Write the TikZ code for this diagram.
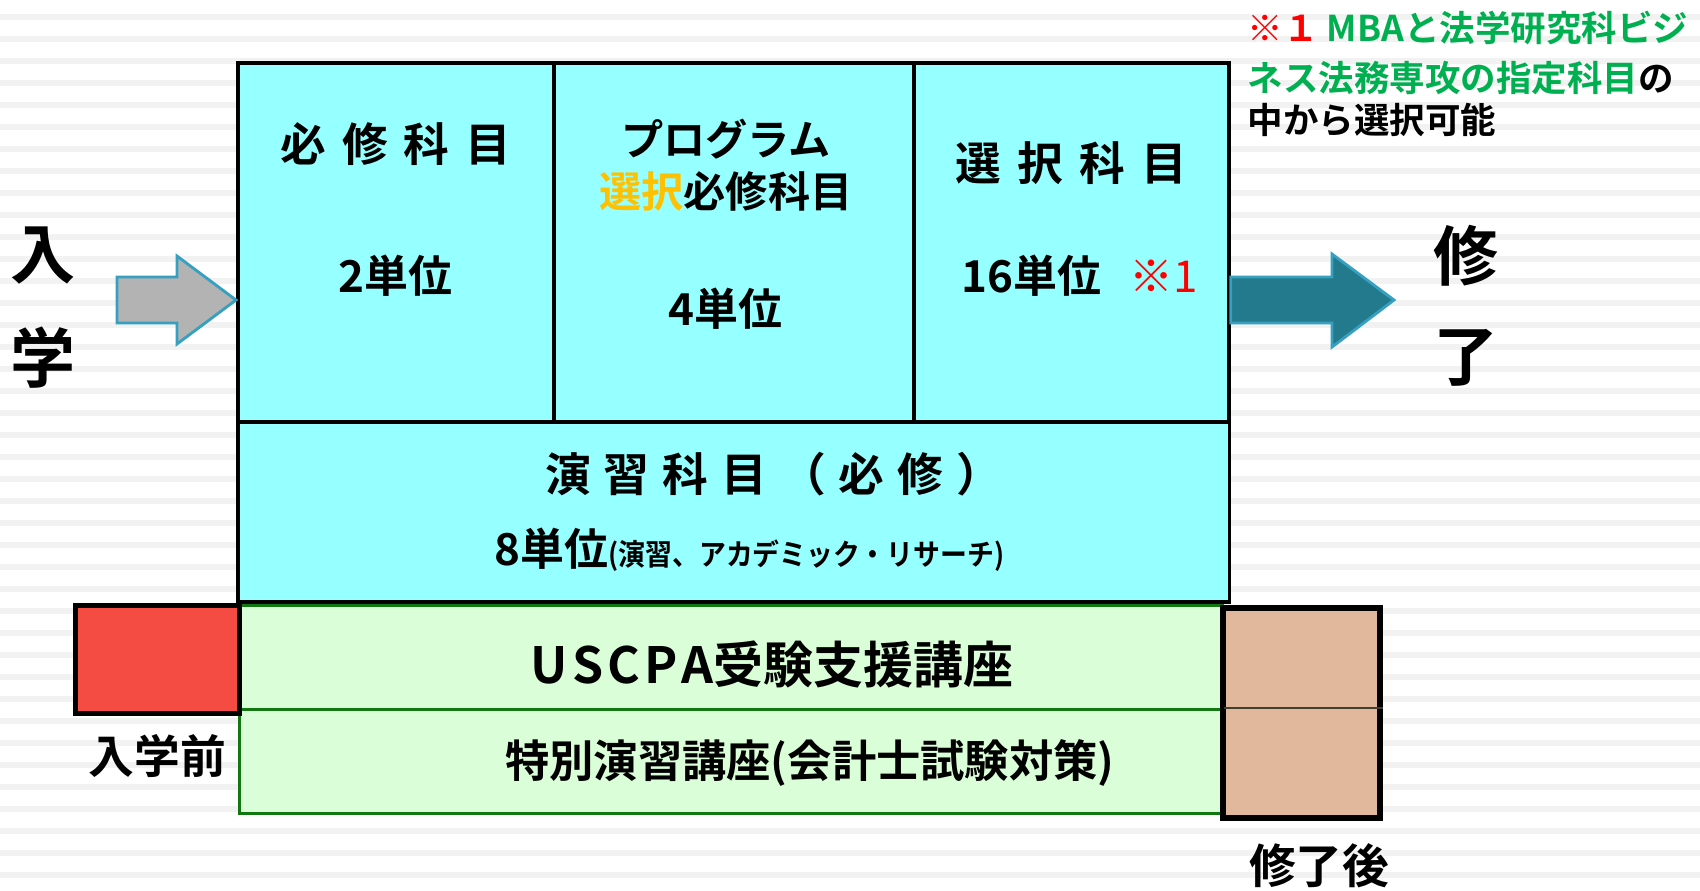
\documentclass[tikz,border=0pt]{standalone}
\usepackage{fontspec}
\setmainfont{Noto Sans CJK JP}[BoldFont={Noto Sans CJK JP Bold}]
\usepackage{graphicx}
\usepackage{xcolor}
\usetikzlibrary{positioning}

\definecolor{cellcyan}{HTML}{96FFFF}
\definecolor{cellgreen}{HTML}{DAFFD8}
\definecolor{linegreen}{HTML}{117711}
\definecolor{prered}{HTML}{F44C42}
\definecolor{postbrown}{HTML}{E2B89C}
\definecolor{arrowteal}{HTML}{237A8C}
\definecolor{arrowedge}{HTML}{35A0C0}
\definecolor{arrowgray}{HTML}{B3B3B3}
\definecolor{selorange}{HTML}{FFC000}
\definecolor{notegreen}{HTML}{00B050}
\definecolor{stripegray}{HTML}{F2F2F2}

\newcommand{\jgap}{\hspace{0.16cm}}

\begin{document}
\begin{tikzpicture}[x=0.01cm,y=-0.01cm,
	cell/.style={draw=black,line width=1pt,fill=cellcyan,anchor=north west,inner sep=0pt},
	course/.style={draw=linegreen,line width=0.9pt,fill=cellgreen,anchor=north west,inner sep=0pt,minimum width=9.82cm,minimum height=1.04cm},
	head/.style={inner sep=1pt,font=\fontsize{13}{15}\selectfont\bfseries},
	unit/.style={inner sep=1pt,font=\fontsize{12.5}{15}\selectfont\bfseries},
	side/.style={inner sep=1pt,font=\fontsize{18.5}{20}\selectfont\bfseries},
	note/.style={inner sep=0pt,anchor=west,font=\fontsize{10.1}{12}\selectfont\bfseries},
	blockarrow/.style={draw=arrowedge,line width=0.8pt,line join=miter}]
		\useasboundingbox (0,0) rectangle (1700,890);
		\fill[white] (0,0) rectangle (1700,890);
		\foreach \i in {0,...,39}
			\fill[stripegray] (0,{14+22*\i}) rectangle (1700,{20+22*\i});
		
		% course blocks
		\node[cell,minimum width=3.16cm,minimum height=3.59cm] (req) at (236,61) {};
		\node[cell,minimum width=3.60cm,minimum height=3.59cm] (prog) at (552,61) {};
		\node[cell,minimum width=3.15cm,minimum height=3.59cm] (elec) at (912,61) {};
		\node[cell,minimum width=9.91cm,minimum height=1.80cm] (sem) at (236,420) {};
		\node[course] (cpa) at (238,604) {};
		\node[course] (spec) at (238,708) {};
		\node[draw=black,line width=1.4pt,fill=prered,anchor=north west,minimum width=1.64cm,minimum height=1.08cm] (pre) at (73,603) {};
		\node[draw=black,line width=1.6pt,fill=postbrown,anchor=north west,minimum width=1.57cm,minimum height=2.10cm] (post) at (1220,605) {};
		\draw[draw=black!70!olive,line width=0.8pt] (spec.north east) -- (spec.north east -| post.east);
		
		\node[head,shift={(0,83)}] (reqt) at (req.north) {必\jgap 修\jgap 科\jgap 目};
		\node[unit,shift={(0,215)}] (reqc) at (req.north) {2単位};
		\node[head,shift={(-8,104)},align=center,font=\fontsize{12}{14.8}\selectfont\bfseries] (progt) at (prog.north) {プログラム\\\textcolor{selorange}{選択}必修科目};
		\node[unit,shift={(-8,248)}] (progc) at (prog.north) {4単位};
		\node[head,shift={(0,102)}] (elect) at (elec.north) {選\jgap 択\jgap 科\jgap 目};
		\node[unit,shift={(-40,215)}] (elecc) at (elec.north) {16単位};
		\node[unit,text=red,font=\fontsize{12.5}{15}\selectfont,right=0.2cm of elecc] (mark) {※1};
		\node[head,shift={(40,54)}] (semt) at (sem.north) {演\hspace{0.13cm}習\hspace{0.13cm}科\hspace{0.13cm}目\hspace{0.13cm}（\hspace{0.13cm}必\hspace{0.13cm}修\hspace{0.13cm}）};
		\node[unit,shift={(16,130)}] (semc) at (sem.north) {8単位{\fontsize{8.4}{10}\selectfont\scalebox{0.91}[1]{(演習、アカデミック・リサーチ)}}};
		\node[head,font=\fontsize{14.2}{16}\selectfont\bfseries,shift={(41,7)}] (cpat) at (cpa.center) {U\hspace{0.04cm}S\hspace{0.04cm}C\hspace{0.04cm}P\hspace{0.04cm}A受験支援講座};
		\node[head,font=\fontsize{12.6}{15}\selectfont\bfseries,shift={(79,1)}] (spect) at (spec.center) {特別演習講座(会計士試験対策)};
		\node[head,shift={(0,40)}] (prel) at (pre.south) {入学前};
		\node[head,font=\fontsize{13.3}{16}\selectfont\bfseries,shift={(18,45)}] (postl) at (post.south) {修了後};
		
		\node[side] (in1) at (43,256) {入};
		\node[side] (in2) at (43,358) {学};
		\node[side] (out1) at (1466,256) {修};
		\node[side] (out2) at (1466,358) {了};
		
		\node[note,text=notegreen] (note1) at (1247,28) {\textcolor{red}{※１} MBAと法学研究科ビジ};
		\node[note,text=notegreen] (note2) at (1247,78) {ネス法務専攻の指定科目\textcolor{black}{の}};
		\node[note] (note3) at (1247,120) {中から選択可能};
		
		% block arrows
		\draw[blockarrow,fill=arrowgray] (117,277) -- (177,277) -- (177,256) -- (req.west |- 0,300) -- (177,344) -- (177,323) -- (117,323) -- cycle;
		\draw[blockarrow,fill=arrowteal] (elec.east |- 0,277) -- (1332,277) -- (1332,254) -- (1394,300) -- (1332,347) -- (1332,323) -- (elec.east |- 0,323) -- cycle;
	\end{tikzpicture}
\end{document}
